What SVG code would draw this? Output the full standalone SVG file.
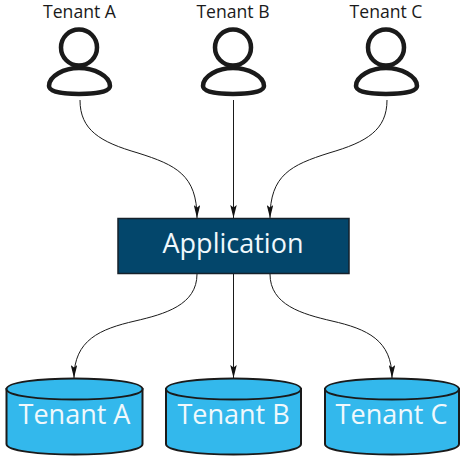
<svg xmlns="http://www.w3.org/2000/svg" width="466" height="459" viewBox="0 0 466 459">
<style>
text{font-family:"Open Sans","Noto Sans",sans-serif;text-anchor:middle}
.t{font-size:17.6px;fill:#1a1a1a}
.l{font-size:27px;fill:#f0f8fc}
.u{fill:#fff;stroke:#1a1a1a;stroke-width:4.5}
.c{fill:none;stroke:#1a1a1a;stroke-width:1;marker-end:url(#a)}
.d{fill:#33b8ec;stroke:#1a1a1a;stroke-width:2}
</style>
<defs>
<marker id="a" markerUnits="userSpaceOnUse" markerWidth="13" markerHeight="6.500" refX="13" refY="3.250" orient="auto" viewBox="0 0 13 6.500"><path d="M0 0L13 3.250L0 6.500L2.500 3.250Z" fill="#111"/></marker>
<g id="user"><path class="u" d="M49 86C49 76 64 68 79 68C94 68 110 76 110 86C110 92 95 94 79 94C63 94 49 92 49 86Z" transform="translate(-79,0)"/><circle class="u" cx="0" cy="47.500" r="18"/></g>
</defs>
<g id="connectors">
<path class="c" d="M80 100C80 130 100 142 138 153C176 165 197 175 197 218"/>
<path class="c" d="M233.500 100V218"/>
<path class="c" d="M387 100C387 130 367 142 329 153C291 165 270 175 270 218"/>
<path class="c" d="M197 274C197 305 165 314 135 321C100 329 74 340 74 378"/>
<path class="c" d="M233.500 274V378"/>
<path class="c" d="M270 274C270 305 302 314 332 321C367 329 392 340 392 378"/>
</g>
<g id="user-a"><use href="#user" x="79"/><text class="t" x="79.500" y="18">Tenant A</text></g>
<g id="user-b"><use href="#user" x="233"/><text class="t" x="233" y="18">Tenant B</text></g>
<g id="user-c"><use href="#user" x="386"/><text class="t" x="386" y="18">Tenant C</text></g>
<g id="application"><rect x="118" y="218.500" width="231" height="55" fill="#03466b" stroke="#15212b" stroke-width="1.500"/><text class="l" x="233" y="253">Application</text></g>
<g id="db-a"><path class="d" d="M6.500 389V444C6.500 458 142.500 458 142.500 444V389Z"/><path class="d" d="M6.500 389C6.500 403 142.500 403 142.500 389C142.500 375 6.500 375 6.500 389Z"/><text class="l" x="74.500" y="423.500">Tenant A</text></g>
<g id="db-b"><path class="d" d="M166 389V444C166 458 301 458 301 444V389Z"/><path class="d" d="M166 389C166 403 301 403 301 389C301 375 166 375 166 389Z"/><text class="l" x="233.500" y="423.500">Tenant B</text></g>
<g id="db-c"><path class="d" d="M325 389V444C325 458 459 458 459 444V389Z"/><path class="d" d="M325 389C325 403 459 403 459 389C459 375 325 375 325 389Z"/><text class="l" x="391.500" y="423.500">Tenant C</text></g>
</svg>
